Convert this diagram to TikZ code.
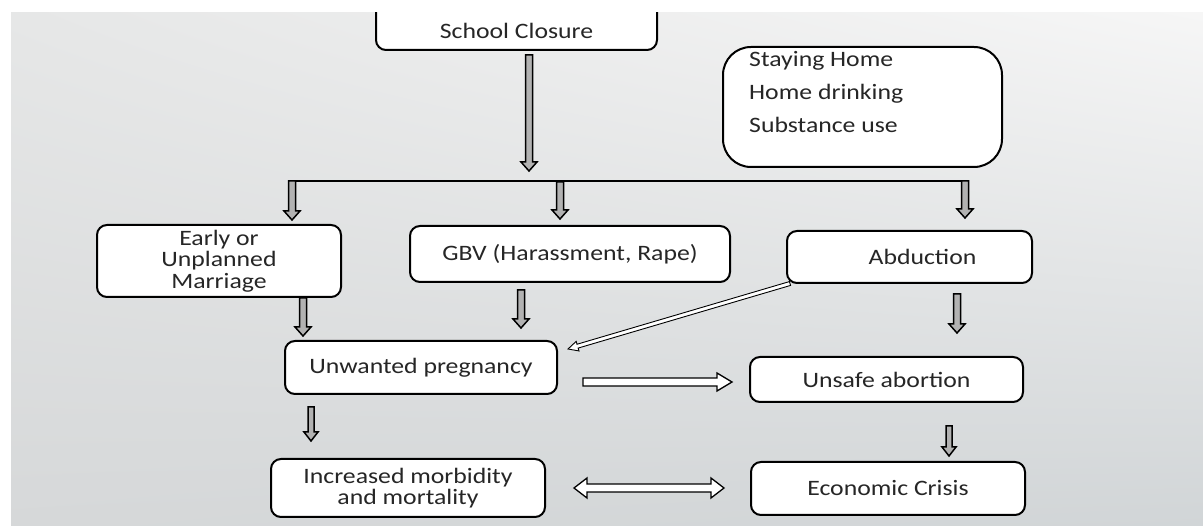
\documentclass[tikz,border=0pt]{standalone}
\usepackage{fontspec}
\setmainfont{Carlito}[FakeStretch=1.17]
\usetikzlibrary{calc,shadings}
\definecolor{bgUL}{HTML}{E6E7E7}
\definecolor{bgUR}{HTML}{F6F6F6}
\definecolor{bgLL}{HTML}{D6D8D9}
\definecolor{bgLR}{HTML}{D1D5D7}
\definecolor{txt}{HTML}{262626}
% block arrow: #1 start, #2 end, #3 shaft half width, #4 head half width, #5 head length, #6 style
\newcommand\blk[6]{%
  \coordinate (bkH) at ($(#2)!#5!(#1)$);
  \filldraw[#6] ($(#1)!#3!90:(#2)$) -- ($(bkH)!#3!90:(#2)$) -- ($(bkH)!#4!90:(#2)$) -- (#2)
    -- ($(bkH)!#4!-90:(#2)$) -- ($(bkH)!#3!-90:(#2)$) -- ($(#1)!#3!-90:(#2)$) -- cycle;}
% double-headed block arrow
\newcommand\dblk[6]{%
  \coordinate (bkA) at ($(#1)!#5!(#2)$);
  \coordinate (bkB) at ($(#2)!#5!(#1)$);
  \filldraw[#6] (#1) -- ($(bkA)!#4!90:(#2)$) -- ($(bkA)!#3!90:(#2)$) -- ($(bkB)!#3!90:(#2)$)
    -- ($(bkB)!#4!90:(#2)$) -- (#2) -- ($(bkB)!#4!-90:(#2)$) -- ($(bkB)!#3!-90:(#2)$)
    -- ($(bkA)!#3!-90:(#2)$) -- ($(bkA)!#4!-90:(#2)$) -- cycle;}
\begin{document}
\begin{tikzpicture}[x=1pt,y=-1pt,
  box/.style={draw=black,line width=2pt,rounded corners=10pt,fill=white,inner sep=0pt,
    align=center,font=\fontsize{22}{21.5}\selectfont,text=txt},
  varrow/.style={draw=black,line width=1.5pt,fill=black!30,line join=miter},
  harrow/.style={draw=black,line width=1.3pt,fill=white,line join=miter},
  darrow/.style={draw=black,line width=0.9pt,fill=white,line join=miter}]
\useasboundingbox (0,0) rectangle (1203,526);
\fill[white] (0,0) rectangle (1203,526);
\shade[upper left=bgUL,upper right=bgUR,lower left=bgLL,lower right=bgLR] (11,13) rectangle (1203,526);

\begin{scope}
  \clip (11,13) rectangle (1203,526);
  \node[box,minimum width=281pt,minimum height=60pt,text height=38pt,text depth=0pt] (sc) at (516.5,20) {School Closure};
\end{scope}

\node[box,rounded corners=28pt,minimum width=279pt,minimum height=120pt] (sh) at (862.5,107) {};
\node[anchor=west,align=left,inner sep=0pt,font=\fontsize{22}{33}\selectfont,text=txt] (shtxt) at (749,92)
  {Staying Home\\Home drinking\\Substance use};

\node[box,minimum width=244pt,minimum height=72pt] (early) at (219,261) {Early or\\Unplanned\\Marriage};
\node[box,minimum width=320pt,minimum height=56pt] (gbv) at (570,254) {GBV (Harassment, Rape)};
\node[box,minimum width=245pt,minimum height=52pt] (abd) at (909.5,257) {\hspace*{26pt}Abduction};
\node[box,minimum width=272pt,minimum height=53pt] (unw) at (421,367.5) {Unwanted pregnancy};
\node[box,minimum width=273pt,minimum height=45pt] (uns) at (886.5,379.5) {Unsafe abortion};
\node[box,minimum width=274pt,minimum height=58pt] (inc) at (408,488) {Increased morbidity\\and mortality};
\node[box,minimum width=274pt,minimum height=53pt] (eco) at (888,488.5) {Economic Crisis};

% connector coordinates
\coordinate (scA) at (529,55);   \coordinate (scB) at (529,171);
\coordinate (lnL) at (288.5,181); \coordinate (lnR) at (968.5,181);
\coordinate (l1A) at (292,181);  \coordinate (l1B) at (292,220);
\coordinate (l2A) at (560,182);  \coordinate (l2B) at (560,219);
\coordinate (l3A) at (965,181);  \coordinate (l3B) at (965,218);
\coordinate (eA) at (303,298);   \coordinate (eB) at (303,336);
\coordinate (gA) at (521,290);   \coordinate (gB) at (521,328);
\coordinate (aA) at (957,294);   \coordinate (aB) at (957,333);
\coordinate (dA) at (790,283.5); \coordinate (dB) at (568,349);
\coordinate (hA) at (583,382);   \coordinate (hB) at (732,382);
\coordinate (uA) at (311,407);   \coordinate (uB) at (311,441);
\coordinate (sA) at (949,426);   \coordinate (sB) at (949,456);
\coordinate (xA) at (574,488);   \coordinate (xB) at (724,488);

\blk{scA}{scB}{3.5pt}{8pt}{9pt}{varrow}
\draw[line width=1.6pt] (lnL) -- (lnR);
\blk{l1A}{l1B}{3.5pt}{8pt}{9pt}{varrow}
\blk{l2A}{l2B}{3.5pt}{8pt}{9pt}{varrow}
\blk{l3A}{l3B}{3.5pt}{8pt}{9pt}{varrow}
\blk{eA}{eB}{3.5pt}{8pt}{9pt}{varrow}
\blk{gA}{gB}{3.5pt}{8pt}{9pt}{varrow}
\blk{aA}{aB}{3.5pt}{8pt}{9pt}{varrow}
\blk{dA}{dB}{2pt}{5pt}{10pt}{darrow}
\blk{hA}{hB}{4pt}{9pt}{15pt}{harrow}
\blk{uA}{uB}{3pt}{7pt}{9pt}{varrow}
\blk{sA}{sB}{3pt}{7pt}{9pt}{varrow}
\dblk{xA}{xB}{4pt}{10pt}{13pt}{harrow}
\end{tikzpicture}
\end{document}
